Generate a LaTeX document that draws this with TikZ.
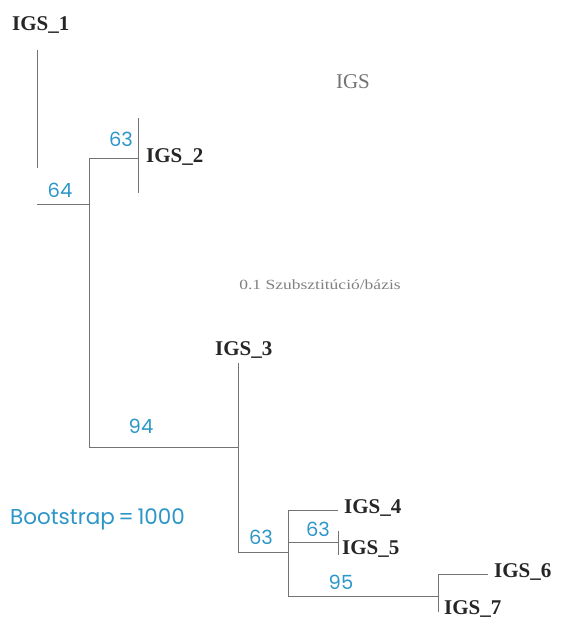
\documentclass[tikz,border=0pt]{standalone}
\usepackage{fontspec}
\setmainfont{Liberation Serif}
\newfontfamily\geo{Poppins}
\newfontfamily\widefont[FakeStretch=1.25]{Liberation Serif}
\begin{document}
\begin{tikzpicture}[x=1pt,y=-1pt,
  br/.style={draw=black!55,line width=0.9pt},
  leaf/.style={anchor=west,inner sep=0pt,font=\fontsize{21}{21}\selectfont\bfseries,text=black!85},
  boot/.style={inner sep=0pt,font=\geo\fontsize{19.5}{19.5}\selectfont,text={rgb,255:red,45;green,150;blue,200}},
  note/.style={inner sep=0pt,text=black!55}]
\useasboundingbox (0,0) rectangle (568,622);
% coordinates of branch points
\coordinate (a1) at (37,50);
\coordinate (a2) at (37,168);
\coordinate (h1) at (37,204);
\coordinate (n1) at (89,204);
\coordinate (n1t) at (89,158);
\coordinate (n2) at (138,158);
\coordinate (n2t) at (138,118);
\coordinate (n2b) at (138,193);
\coordinate (n1b) at (89,447);
\coordinate (n3) at (238,447);
\coordinate (n3t) at (238,363);
\coordinate (n3b) at (238,552);
\coordinate (n4) at (288,552);
\coordinate (n4t) at (288,510);
\coordinate (n4m) at (288,542);
\coordinate (n4b) at (288,596);
\coordinate (l4) at (338,510);
\coordinate (n5) at (338,542);
\coordinate (n5t) at (338,531);
\coordinate (n5b) at (338,555);
\coordinate (n6) at (438,596);
\coordinate (n6t) at (438,574);
\coordinate (n6b) at (438,612);
\coordinate (l6) at (488,574);
% labels
\node[leaf] (t1) at (12,25) {IGS\_1};
\node[leaf] (t2) at (146,157) {IGS\_2};
\node[leaf] (t3) at (215,350) {IGS\_3};
\node[leaf] (t4) at (344,508) {IGS\_4};
\node[leaf] (t5) at (342,549) {IGS\_5};
\node[leaf] (t6) at (494,572) {IGS\_6};
\node[leaf] (t7) at (444,609) {IGS\_7};
% branches
\draw[br] (a1) -- (a2);
\draw[br] (h1) -- (n1);
\draw[br] (n1t) -- (n1b);
\draw[br] (n1t) -- (n2);
\draw[br] (n2t) -- (n2b);
\draw[br] (n1b) -- (n3);
\draw[br] (n3t) -- (n3b);
\draw[br] (n3b) -- (n4);
\draw[br] (n4t) -- (n4b);
\draw[br] (n4t) -- (l4);
\draw[br] (n4m) -- (n5);
\draw[br] (n5t) -- (n5b);
\draw[br] (n4b) -- (n6);
\draw[br] (n6t) -- (n6b);
\draw[br] (n6t) -- (l6);
% bootstrap values
\node[boot] (b1) at (121,139) {63};
\node[boot] (b2) at (60,190) {64};
\node[boot] (b3) at (141,426) {94};
\node[boot] (b4) at (261,537) {63};
\node[boot] (b5) at (318,529) {63};
\node[boot] (b6) at (341,582) {95};
\node[boot,anchor=west,font=\geo\fontsize{21.5}{21.5}\selectfont] (bs) at (10,519) {Bootstrap\,=\,1000};
% notes
\node[note,font=\fontsize{21}{21}\selectfont] (ttl) at (353,82) {IGS};
\node[note,font=\widefont\fontsize{14}{14}\selectfont,text=black!50] (sc) at (320,285) {0.1 Szubsztitúció/bázis};
\end{tikzpicture}
\end{document}
